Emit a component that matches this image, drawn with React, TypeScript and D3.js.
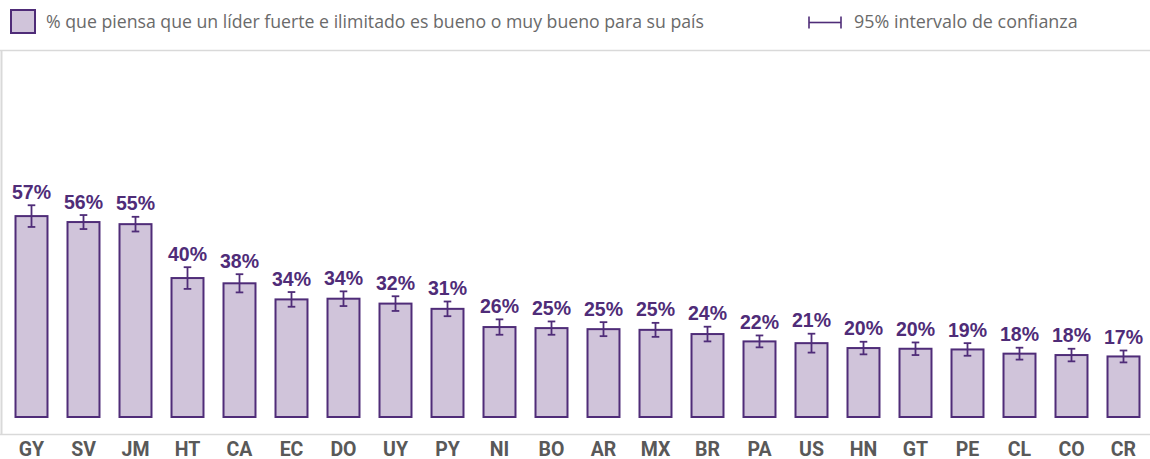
import React from "react";
import * as d3 from "d3";

const countries = ["GY","SV","JM","HT","CA","EC","DO","UY","PY","NI","BO","AR","MX","BR","PA","US","HN","GT","PE","CL","CO","CR"];
const values = [57.4,55.7,55.1,39.7,38.2,33.6,33.8,32.4,30.9,25.7,25.4,25.1,24.9,23.7,21.6,21.1,19.7,19.5,19.3,18.1,17.7,17.3];
const errors = [3.1,2.0,2.1,3.1,2.6,2.1,2.1,2.1,2.1,2.2,1.9,2.0,2.0,2.1,1.7,2.7,1.8,1.8,1.8,1.7,1.8,1.7];
const legendMain = "% que piensa que un líder fuerte e ilimitado es bueno o muy bueno para su país";
const legendCI = "95% intervalo de confianza";

const W = 1150, H = 459;
const PURPLE = "#4f2c78";
const FILL = "#d0c4da";
const GRID = "#d9d9d9";

export default function App() {
  const x = d3.scaleBand<string>().domain(countries).range([5.5, 1149.5]).paddingInner(0.385).paddingOuter(0.1925);
  const y = d3.scaleLinear().domain([0, 100]).range([417, 67]);
  const bw = x.bandwidth();
  const cap = 3.8;
  return (
    <div style={{ position: "absolute", left: 0, top: 0 }}>
      <svg width={W} height={H} style={{ display: "block" }}>
        <rect x={0} y={0} width={W} height={H} fill="#fff" />
        {/* legend */}
        <rect x={11} y={10} width={24} height={23} fill={FILL} stroke={PURPLE} strokeWidth={2} />
        <text x={46} y={28} fontFamily="'Open Sans', Lato, sans-serif" fontSize={17.7} fill="#6a6a6a">{legendMain}</text>
        <g stroke={PURPLE} strokeWidth={1.6}>
          <line x1={809} x2={809} y1={16.5} y2={28.5} />
          <line x1={841} x2={841} y1={16.5} y2={28.5} />
          <line x1={809} x2={841} y1={22.5} y2={22.5} />
        </g>
        <text x={854} y={28} fontFamily="'Open Sans', Lato, sans-serif" fontSize={17.9} fill="#6a6a6a">{legendCI}</text>
        {/* frame */}
        <line x1={0} x2={W} y1={50.5} y2={50.5} stroke={GRID} strokeWidth={1.5} />
        <line x1={1.5} x2={1.5} y1={50} y2={434} stroke={GRID} strokeWidth={2} />
        <line x1={0} x2={W} y1={434.5} y2={434.5} stroke={GRID} strokeWidth={1.5} />
        {countries.map((c, i) => {
          const x0 = x(c)!;
          const cx = x0 + bw / 2;
          const v = values[i];
          const e = errors[i];
          const top = y(v + e);
          const bot = y(v - e);
          return (
            <g key={c}>
              <rect x={x0} y={y(v)} width={bw} height={y(0) - y(v)} fill={FILL} stroke={PURPLE} strokeWidth={2} />
              <g stroke={PURPLE} strokeWidth={1.8}>
                <line x1={cx} x2={cx} y1={top} y2={bot} />
                <line x1={cx - cap} x2={cx + cap} y1={top} y2={top} />
                <line x1={cx - cap} x2={cx + cap} y1={bot} y2={bot} />
              </g>
              <text x={cx} y={top - 6.5} textAnchor="middle" fontFamily="'Liberation Sans', Arial, sans-serif" fontWeight="bold" fontSize={19.5} fill={PURPLE}>
                {Math.round(v) + "%"}
              </text>
              <text x={cx} y={456} textAnchor="middle" fontFamily="Roboto, sans-serif" fontWeight="bold" fontSize={19.5} fill="#595959">
                {c}
              </text>
            </g>
          );
        })}
      </svg>
    </div>
  );
}
